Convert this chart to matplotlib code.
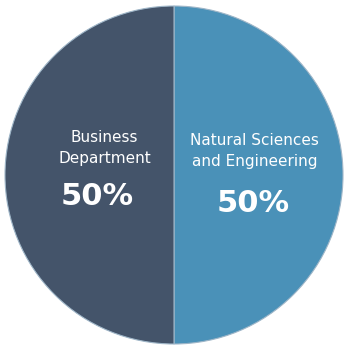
import matplotlib.pyplot as plt

labels = ['Natural Sciences\nand Engineering', 'Business\nDepartment']
shares = [50, 50]
colors = ['#4A91B8', '#44546A']

fig = plt.figure(figsize=(3.46, 3.5), dpi=100)
ax = fig.add_axes([5 / 346, 6 / 350, 338 / 346, 338 / 350])

wedges, _ = ax.pie(shares, colors=colors, startangle=90, counterclock=False,
                   wedgeprops=dict(edgecolor='#9fb6c8', linewidth=0.8))
ax.set_aspect('equal')
ax.set_xlim(-1, 1)
ax.set_ylim(-1, 1)

# label and percent placement per wedge (name pos, pct pos)
spots = [((0.475, 0.14), (0.47, -0.17)), ((-0.41, 0.16), (-0.455, -0.13))]
for lab, val, (p1, p2) in zip(labels, shares, spots):
    ax.text(p1[0], p1[1], lab, ha='center', va='center', color='white',
            fontsize=11, linespacing=1.5)
    ax.text(p2[0], p2[1], f'{val}%', ha='center', va='center', color='white',
            fontsize=22, fontweight='bold')

fig.savefig('out.png', dpi=100)
